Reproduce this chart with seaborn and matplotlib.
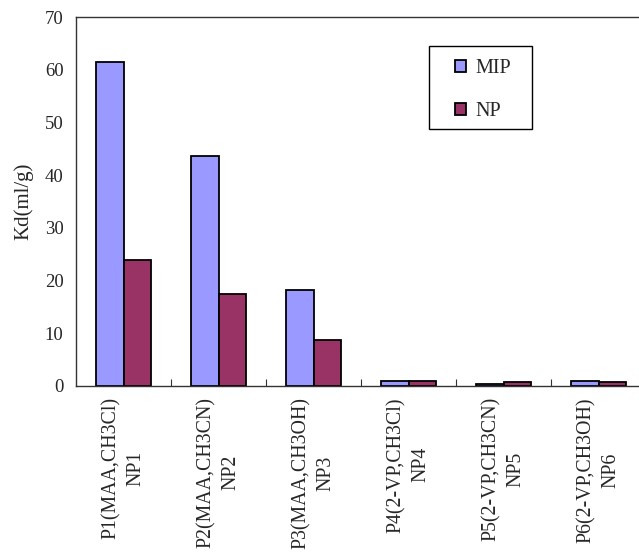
import matplotlib
matplotlib.use("Agg")
import matplotlib.pyplot as plt
from matplotlib.patches import Rectangle
from matplotlib.ticker import FixedLocator
import seaborn as sns
import pandas as pd

categories = ["P1(MAA,CH3Cl)\nNP1", "P2(MAA,CH3CN)\nNP2", "P3(MAA,CH3OH)\nNP3",
              "P4(2-VP,CH3Cl)\nNP4", "P5(2-VP,CH3CN)\nNP5", "P6(2-VP,CH3OH)\nNP6"]
mip_values = [61.5, 43.7, 18.2, 1.0, 0.3, 1.0]
np_values = [23.9, 17.5, 8.7, 1.0, 0.7, 0.7]
series_names = ["MIP", "NP"]
colors = ["#9999FF", "#993366"]

df = pd.DataFrame({
    "category": categories * 2,
    "value": mip_values + np_values,
    "series": [series_names[0]] * len(categories) + [series_names[1]] * len(categories),
})

sns.set_style("white")
plt.rcParams["font.family"] = ["Liberation Serif", "DejaVu Serif"]

fig = plt.figure(figsize=(6.39, 5.53), dpi=100)
ax = fig.add_axes([0.119, 0.302, 0.892, 0.667])

sns.barplot(data=df, x="category", y="value", hue="series", palette=colors,
            saturation=1, width=0.58, edgecolor="black", linewidth=1.3, ax=ax, legend=True)

ax.set_xlim(-0.5, 5.5)
ax.set_ylim(0, 70)
ax.set_yticks(range(0, 71, 10))
ax.tick_params(axis="y", length=0, labelsize=13.5, pad=9)
ax.set_xticks(range(len(categories)))
ax.set_xticklabels(categories, rotation=90, ha="center", va="top",
                   multialignment="center", linespacing=1.45)
ax.tick_params(axis="x", which="major", length=0, labelsize=14.3, pad=8)
ax.xaxis.set_minor_locator(FixedLocator([i + 0.5 for i in range(len(categories) - 1)]))
ax.tick_params(axis="x", which="minor", bottom=True, direction="in", length=5,
               width=0.8, color="#333333")
ax.set_xlabel("")
ax.set_ylabel("Kd(ml/g)", fontsize=15, labelpad=8)

for side in ["left", "bottom", "top", "right"]:
    ax.spines[side].set_visible(True)
    ax.spines[side].set_color("#333333")
    ax.spines[side].set_linewidth(1.0)

# legend box drawn as its own frame, entries without frame
ax.add_patch(Rectangle((0.619, 0.696), 0.181, 0.225, transform=ax.transAxes,
                       facecolor="white", edgecolor="black", linewidth=1.0, zorder=4))
handles, labels = ax.get_legend_handles_labels()
leg = ax.legend(handles, labels, loc="upper left", bbox_to_anchor=(0.665, 0.887),
                fontsize=14.5, handlelength=0.55, handleheight=0.55, labelspacing=1.2,
                borderpad=0, handletextpad=0.45, borderaxespad=0, frameon=False)
leg.set_zorder(5)

fig.savefig("out.png", dpi=100)
